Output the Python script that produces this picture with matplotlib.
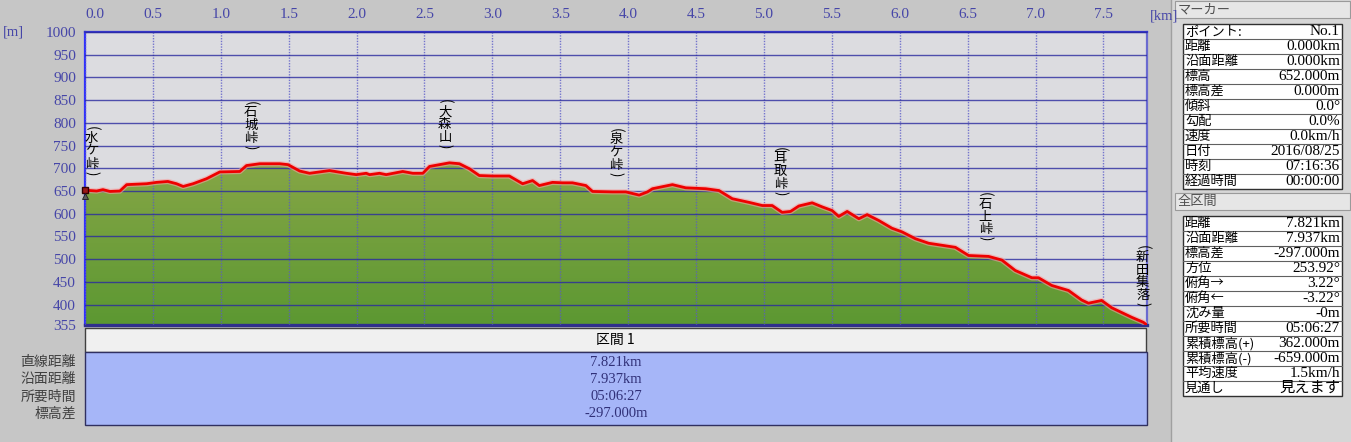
import numpy as np
import matplotlib
matplotlib.use('Agg')
import matplotlib.pyplot as plt
from matplotlib.patches import Rectangle
from matplotlib.colors import LinearSegmentedColormap

plt.rcParams['font.family'] = ['Noto Sans CJK JP', 'DejaVu Sans']
SERIF = ['Liberation Serif', 'Noto Sans CJK JP']

# 断面データ (距離 km, 標高 m)
dist_km = [0.000, 0.037, 0.086, 0.132, 0.184, 0.257, 0.307, 0.454, 0.527, 0.610,
           0.674, 0.723, 0.796, 0.895, 0.993, 1.140, 1.189, 1.287, 1.434, 1.495,
           1.581, 1.654, 1.801, 1.924, 1.998, 2.071, 2.096, 2.169, 2.218, 2.340,
           2.414, 2.488, 2.537, 2.684, 2.757, 2.831, 2.904, 3.002, 3.125, 3.223,
           3.296, 3.346, 3.443, 3.517, 3.590, 3.689, 3.738, 3.885, 3.983, 4.081,
           4.142, 4.179, 4.326, 4.424, 4.571, 4.669, 4.767, 4.890, 4.988, 5.061,
           5.134, 5.196, 5.257, 5.355, 5.429, 5.502, 5.551, 5.613, 5.699, 5.760,
           5.846, 5.943, 6.017, 6.115, 6.213, 6.410, 6.507, 6.654, 6.752, 6.851,
           6.973, 7.022, 7.120, 7.243, 7.340, 7.390, 7.487, 7.561, 7.708, 7.794,
           7.821]
elev_m = [652, 651, 650, 653, 649, 650, 664, 666, 669, 671,
          666, 660, 666, 677, 692, 693, 706, 710, 710, 708,
          694, 689, 695, 689, 686, 689, 686, 689, 686, 693,
          689, 689, 704, 712, 710, 699, 684, 683, 683, 666,
          673, 662, 669, 668, 668, 662, 649, 648, 648, 641,
          648, 655, 664, 657, 655, 651, 633, 625, 618, 618,
          603, 605, 617, 624, 615, 607, 594, 605, 589, 598,
          585, 568, 560, 545, 535, 526, 508, 506, 498, 475,
          459, 459, 442, 431, 410, 403, 409, 393, 372, 361,
          355]

# 地点名
wp_names = ['水ケ峠', '石城峠', '大森山', '泉ケ峠', '耳取峠', '石上峠', '新田集落']
wp_km = [0.05, 1.22, 2.65, 3.91, 5.12, 6.63, 7.79]

x_ticks = [0.0, 0.5, 1.0, 1.5, 2.0, 2.5, 3.0, 3.5, 4.0, 4.5, 5.0, 5.5, 6.0, 6.5, 7.0, 7.5]
y_ticks = [355, 400, 450, 500, 550, 600, 650, 700, 750, 800, 850, 900, 950, 1000]

section_title = '区間 1'
section_labels = ['直線距離', '沿面距離', '所要時間', '標高差']
section_values = ['7.821km', '7.937km', '05:06:27', '-297.000m']

marker_labels = ['ポイント:', '距離', '沿面距離', '標高', '標高差', '傾斜', '勾配',
                 '速度', '日付', '時刻', '経過時間']
marker_values = ['No.1', '0.000km', '0.000km', '652.000m', '0.000m', '0.0°', '0.0%',
                 '0.0km/h', '2016/08/25', '07:16:36', '00:00:00']

total_labels = ['距離', '沿面距離', '標高差', '方位', '俯角→', '俯角←', '沈み量',
                '所要時間', '累積標高(+)', '累積標高(-)', '平均速度', '見通し']
total_values = ['7.821km', '7.937km', '-297.000m', '253.92°', '3.22°', '-3.22°', '-0m',
                '05:06:27', '362.000m', '-659.000m', '1.5km/h', '見えます']

W, H = 1351, 442
fig = plt.figure(figsize=(W / 100, H / 100), dpi=100, facecolor='#C6C6C6')

# 背景用 (ピクセル座標)
bg = fig.add_axes([0, 0, 1, 1], zorder=0)
bg.set_xlim(0, W)
bg.set_ylim(H, 0)
bg.axis('off')

# ---- 断面図 ----
ax = fig.add_axes([85 / W, 1 - 325 / H, (1147 - 85) / W, (325 - 32) / H], zorder=1)
ax.set_facecolor('#DCDCE0')

x = np.array(dist_km)
y = np.array(elev_m)
poly = ax.fill_between(x, y, 355, color='#6C9C3A', lw=0, zorder=1)
grad = np.linspace(0, 1, 200).reshape(-1, 1)
cmap = LinearSegmentedColormap.from_list('g', ['#5C9832', '#86A646'])
im = ax.imshow(grad, extent=[0, 7.821, 355, 715], origin='lower', aspect='auto',
               cmap=cmap, zorder=1.2)
im.set_clip_path(poly.get_paths()[0], transform=ax.transData)

ax.plot(x, y, color='#F4A0A0', lw=3.8, alpha=0.6, zorder=2.8, solid_capstyle='butt')
ax.plot(x, y, color='#EE0000', lw=2.0, zorder=3)

ax.set_xlim(0, 7.821)
ax.set_ylim(355, 1000)
ax.set_axisbelow(False)
ax.xaxis.tick_top()
ax.set_xticks(x_ticks)
ax.set_xticklabels([f'{v:.1f}' for v in x_ticks])
ax.set_yticks(y_ticks)
ax.set_yticklabels([str(v) for v in y_ticks])
ax.tick_params(length=0, labelcolor='#4646A8', labelsize=11)
ax.tick_params(axis='x', pad=8)
ax.tick_params(axis='y', pad=6.5)
for lab in ax.get_xticklabels() + ax.get_yticklabels():
    lab.set_family(SERIF)
ax.get_xticklabels()[0].set_ha('left')
ax.yaxis.grid(True, color='#2A2AA0', lw=1.0, alpha=0.8)
ax.xaxis.grid(True, color='#5A5AC8', lw=1.0, ls=(0, (1, 1)), alpha=0.8)

for side, c in [('top', '#3434C8'), ('left', '#3030FF'), ('right', '#6A6AD0'), ('bottom', '#30308C')]:
    ax.spines[side].set_color(c)
    ax.spines[side].set_linewidth(1.6)
ax.spines['bottom'].set_linewidth(2.4)

# スタート地点マーカー
ax.plot([dist_km[0]], [elev_m[0]], marker='s', ms=5, color='#9A1818', mec='#300000',
        clip_on=False, zorder=6)
ax.plot([dist_km[0]], [elev_m[0] - 14], marker='^', ms=5, color='#606060', mec='#202020',
        mew=0.6, clip_on=False, zorder=6)

# 地点名 (縦書き)
for name, km in zip(wp_names, wp_km):
    base = np.interp(km, x, y) + 32
    glyphs = ['('] + list(name) + [')']
    cur = 0.0
    for g in reversed(glyphs):
        h = 6.0 if g in '()' else 12.8
        ctr = cur + h / 2
        cur += h
        rot = -90 if g in '()' else 0
        ax.annotate(g, xy=(km, base), xytext=(0, ctr * 0.72), textcoords='offset points',
                    ha='center', va='center', rotation=rot, rotation_mode='anchor',
                    fontsize=9.6, color='black', zorder=7, annotation_clip=False)

bg.text(3, 32, '[m]', ha='left', va='center', fontsize=10.5, color='#4646A8', family=SERIF)
bg.text(1150, 16, '[km]', ha='left', va='center', fontsize=10.5, color='#4646A8', family=SERIF)

# ---- 区間表 ----
bg.add_patch(Rectangle((85, 328), 1061, 24, fc='#F0F0F0', ec='#404040', lw=1))
bg.text(615, 340, section_title, ha='center', va='center', fontsize=10, color='black')
bg.add_patch(Rectangle((85, 352), 1062, 73, fc='#A6B6F8', ec='#303060', lw=1))
for i, (lab, val) in enumerate(zip(section_labels, section_values)):
    yy = 362 + i * 17.3
    bg.text(76, yy, lab, ha='right', va='center', fontsize=10, color='#404040')
    bg.text(616, yy, val, ha='center', va='center', fontsize=10.5, color='#303078', family=SERIF)

# ---- 右パネル ----
bg.add_patch(Rectangle((1172, 0), 179, H, fc='#D6D6D6', ec='none'))
bg.plot([1171, 1171], [0, H], color='#A0A0A0', lw=1)


def panel(title, top, labels, values):
    bg.add_patch(Rectangle((1175, top), 175, 17, fc='#E6E6E6', ec='#9A9A9A', lw=0.8))
    bg.text(1178, top + 8.5, title, ha='left', va='center', fontsize=9.5, color='#505050')
    t0 = top + 22.5
    n = len(labels)
    bg.add_patch(Rectangle((1183, t0), 159, 15 * n, fc='white', ec='#303030', lw=1))
    for i, (lab, val) in enumerate(zip(labels, values)):
        yy = t0 + 15 * i
        if i > 0:
            bg.plot([1183, 1342], [yy, yy], color='#606060', lw=0.8)
        bg.text(1185, yy + 7.8, lab, ha='left', va='center', fontsize=9.5, color='black')
        bg.text(1340, yy + 7.8, val, ha='right', va='center', fontsize=11, color='black',
                family=SERIF)


panel('マーカー', 1, marker_labels, marker_values)
panel('全区間', 193, total_labels, total_values)

fig.savefig('out.png', dpi=100, facecolor=fig.get_facecolor())
